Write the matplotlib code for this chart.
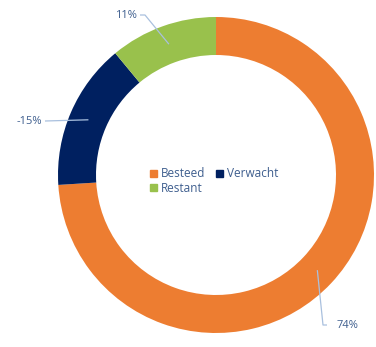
import numpy as np
import matplotlib.pyplot as plt

# Budget split
categories = ["Besteed", "Verwacht", "Restant"]
values = [74, -15, 11]
colors = ["#ED7D31", "#002060", "#99C14C"]

text_color = "#3E5E8E"
leader_color = "#A9C0DE"
plt.rcParams["font.family"] = ["Open Sans", "DejaVu Sans"]

W, H = 376, 347
fig = plt.figure(figsize=(W / 100, H / 100), dpi=100)
ax = fig.add_axes([0, 0, 1, 1])
ax.set_xlim(0, W)
ax.set_ylim(0, H)
ax.set_aspect("equal")
ax.axis("off")

cx, cy = 216, H - 175
R, width = 158, 38

sizes = [abs(v) for v in values]
wedges, _ = ax.pie(sizes, colors=colors, startangle=90, counterclock=False,
                   radius=R, center=(cx, cy),
                   wedgeprops=dict(width=width, edgecolor="none"))
ax.set_xlim(0, W)
ax.set_ylim(0, H)

# Data labels with leader lines anchored at the middle of each ring segment
r_mid = R - width / 2
label_layout = {
    # text position, text alignment, elbow points (from text towards ring)
    0: dict(text=(337, H - 325), ha="left", path=[(327, H - 325), (323, H - 325)]),
    1: dict(text=(42, H - 121), ha="right", path=[(45, H - 121)]),
    2: dict(text=(137, H - 15), ha="right", path=[(140, H - 15), (145, H - 15)]),
}
total = sum(sizes)
cum = 0
for i, (w, v) in enumerate(zip(wedges, values)):
    mid = 90 - 360 * (cum + sizes[i] / 2) / total
    cum += sizes[i]
    ax_x = cx + r_mid * np.cos(np.radians(mid))
    ax_y = cy + r_mid * np.sin(np.radians(mid))
    lay = label_layout[i]
    pts = lay["path"] + [(ax_x, ax_y)]
    xs, ys = zip(*pts)
    ax.plot(xs, ys, color=leader_color, lw=0.9, solid_capstyle="butt")
    ax.text(*lay["text"], f"{v}%", ha=lay["ha"], va="center",
            fontsize=8, color=text_color)

# Legend filled row by row: Besteed, Verwacht / Restant
handles = [plt.Rectangle((0, 0), 1, 1, color=c) for c in colors]
order = [0, 2, 1]
leg = ax.legend([handles[k] for k in order], [categories[k] for k in order],
                ncol=2, loc="center",
                bbox_to_anchor=(214 / W, 1 - 181 / H), frameon=False,
                fontsize=8.5, handlelength=0.6, handleheight=0.6,
                handletextpad=0.35, columnspacing=0.9, labelspacing=0.1,
                borderpad=0)
for t in leg.get_texts():
    t.set_color(text_color)

fig.savefig("out.png", dpi=100)
